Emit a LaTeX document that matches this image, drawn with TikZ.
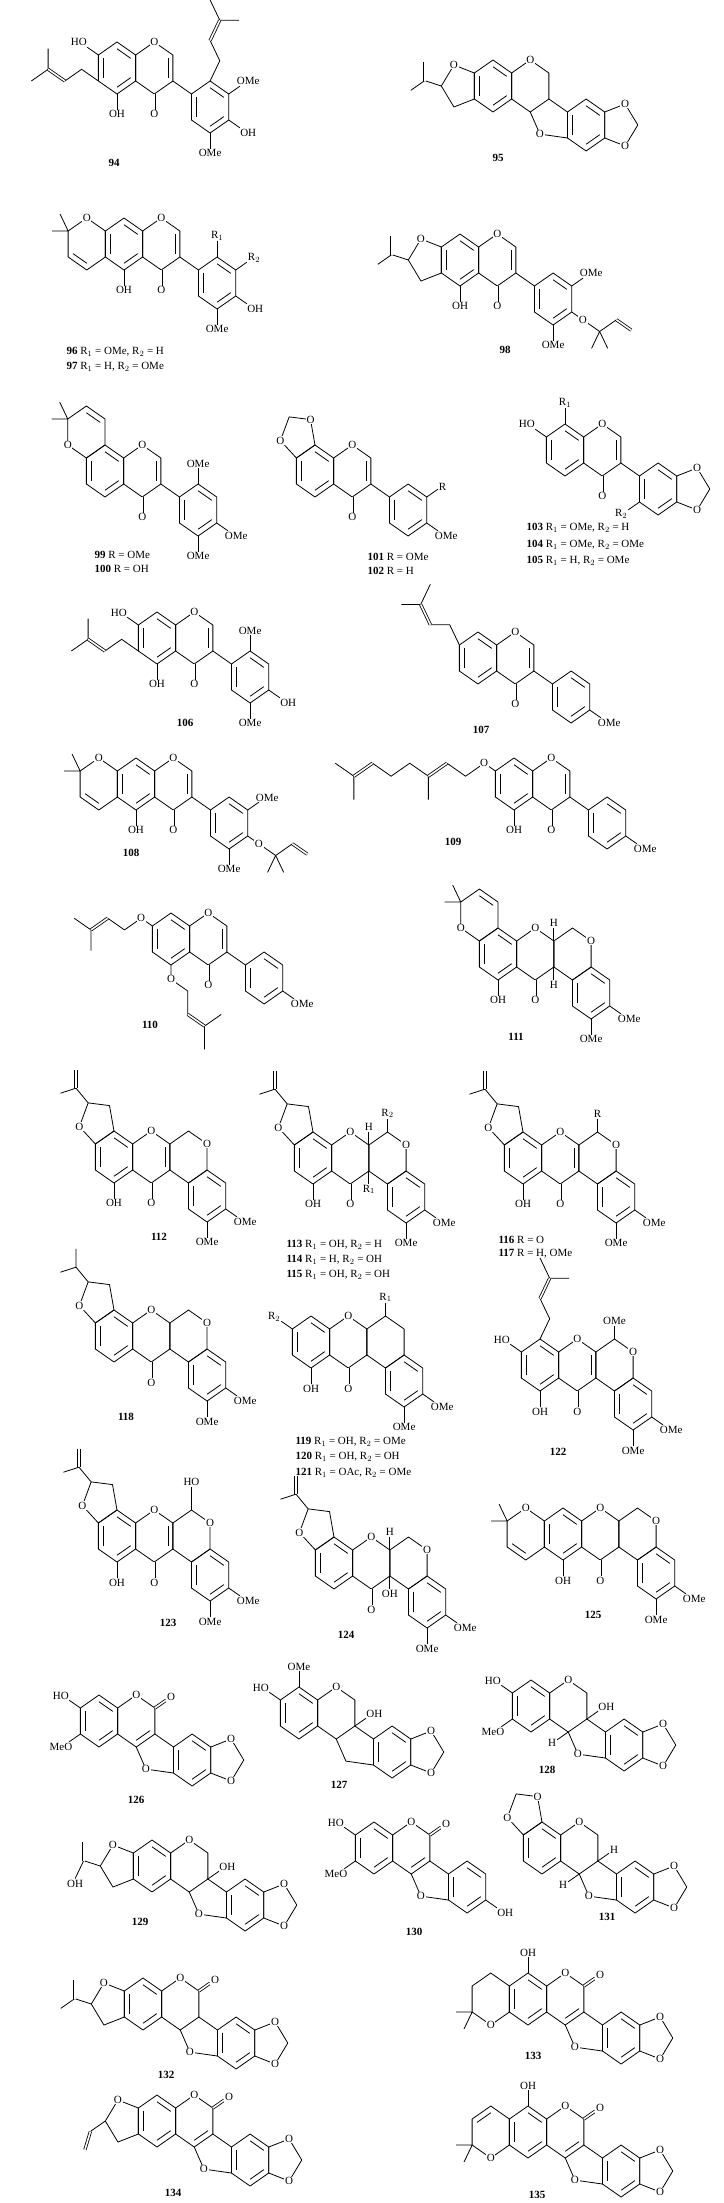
\documentclass[tikz,border=0pt]{standalone}
\usepackage{fontspec}
\setmainfont{Liberation Serif}
\newcounter{nc}
\tikzset{bond/.style={line width=0.8pt,line join=round},
 atom/.style={fill=white,inner sep=0.7pt,font=\fontsize{11}{11}\selectfont},
 lab/.style={font=\bfseries\fontsize{11}{12}\selectfont},
 leg/.style={anchor=west,font=\fontsize{11}{12}\selectfont},
 cmp/.style={xscale=21.5,yscale=26}}
\newcommand{\Sc}[2]{\def\cx{#1}\def\cy{#2}}
\newcommand{\Mv}[2]{\pgfmathsetmacro\cx{\cx+(#1)*cos(#2)}\pgfmathsetmacro\cy{\cy+(#1)*sin(#2)}}
\newcommand{\Hx}[1][0]{\draw[bond] (\cx,\cy) +(#1+30:1) -- +(#1+90:1) -- +(#1+150:1) -- +(#1+210:1) -- +(#1+270:1) -- +(#1+330:1) -- cycle;}
\newcommand{\Db}[2]{\draw[bond] (\cx,\cy) +(#1:.74) -- +(#2:.74);}
\newcommand{\Ar}[1][0]{\Db{#1+30}{#1+90}\Db{#1+150}{#1+210}\Db{#1+270}{#1+330}}
\newcommand{\Pn}[1]{\draw[bond] (\cx,\cy) +(#1+36:.85) -- +(#1+108:.85) -- +(#1+180:.85) -- +(#1+252:.85) -- +(#1+324:.85) -- cycle;}
\newcommand{\At}[3][1]{\stepcounter{nc}\path (\cx,\cy) ++(#2:#1) node[atom] (n\arabic{nc}) {#3};}
\newcommand{\Sb}[3][0.6]{\stepcounter{nc}\pgfmathtruncatemacro\anc{mod(540-(#2),360)}\draw[bond] (\cx,\cy) ++(#2:1) -- ++(#2:#1) node[atom,anchor=\anc] (n\arabic{nc}) {#3};}
\newcommand{\Sv}[4][.6]{\stepcounter{nc}\pgfmathtruncatemacro\anc{mod(540-(#3),360)}\draw[bond] (\cx,\cy) ++(#2:1) -- ++(#3:#1) node[atom,anchor=\anc] (n\arabic{nc}) {#4};}
\newcommand{\Co}[1]{\stepcounter{nc}\pgfmathtruncatemacro\anc{mod(540-(#1),360)}\draw[bond,double distance=1.6pt] (\cx,\cy) ++(#1:1) -- ++(#1:.6) node[atom,anchor=\anc] (n\arabic{nc}) {O};}
\newcommand{\Pren}[1]{\draw[bond] (\cx,\cy)++(#1:1) --++(#1+30:.9) --++(#1-30:.9) coordinate(pp) --++(#1+30:.9) coordinate(qq) --++(#1-30:.9) (qq) --++(#1+90:.9); \draw[bond,double distance=1.6pt] (pp)--(qq);}
\newcommand{\PrenL}{\draw[bond] (\cx,\cy)++(150:1) --++(210:.9) --++(150:.9) coordinate(pp) --++(210:.9) coordinate(qq) --++(150:.9) (qq) --++(270:.8); \draw[bond,double distance=1.6pt] (pp)--(qq);}
\newcommand{\MeTwo}[3]{\draw[bond] (\cx,\cy)++(#1:1)--++(#2:.75) (\cx,\cy)++(#1:1)--++(#3:.75);}
\newcommand{\Chrom}{\Hx\Ar\Mv{1.732}{0}\Hx\Db{330}{30}\At{270}{O}\Co{90}}
\newcommand{\IsoPh}{\draw[bond] (\cx,\cy)++(30:1)--++(30:1);\Mv{3}{30}\Hx\Ar}
\newcommand{\PyrT}{\Mv{1.732}{180}\Hx\At{270}{O}\MeTwo{210}{240}{180}\Db{90}{150}\Mv{1.732}{0}}
\newcommand{\PyrB}[1]{\Mv{1.732}{180}\Hx\At{90}{O}\MeTwo{150}{180}{120}#1\Mv{1.732}{0}}
\newcommand{\PyrAng}{\Mv{1.732}{240}\Hx\At{150}{O}\MeTwo{210}{240}{180}\Db{270}{330}\Mv{1.732}{60}}
\newcommand{\FurLin}[1]{\Mv{1.554}{180}\Pn{0}\At[.85]{252}{O}#1\Mv{1.554}{0}}
\newcommand{\FurAng}[1]{\Mv{1.554}{240}\Pn{60}\At[.85]{168}{O}#1\Mv{1.554}{60}}
\newcommand{\Diox}{\Mv{1.554}{0}\Pn{180}\At[.85]{72}{O}\At[.85]{288}{O}\Mv{1.554}{180}}
\newcommand{\DioxAng}{\Mv{1.554}{240}\Pn{60}\At[.85]{168}{O}\At[.85]{312}{O}\Mv{1.554}{60}}
\newcommand{\Ipr}[3]{\draw[bond] (\cx,\cy)++(#1:.85) --++(#2:.8) coordinate(qq) --++(#3:.75); \draw[bond,double distance=1.6pt] (qq)--++(270:.7);}
\newcommand{\Ipp}[3]{\draw[bond] (\cx,\cy)++(#1:.85) --++(#2:.8) coordinate(qq) --++(#3:.75) (qq)--++(270:.7);}
\newcommand{\Vin}{\draw[bond] (\cx,\cy)++(180:.85) --++(150:.8) coordinate(qq); \draw[bond,double distance=1.6pt] (qq)--++(110:.75);}
\newcommand{\Hyd}{\stepcounter{nc}\draw[bond] (\cx,\cy)++(180:.85) --++(195:.8) coordinate(qq) --++(120:.8) node[atom,anchor=north](n\arabic{nc}){OH}; \draw[bond,double distance=1.6pt] (qq)--++(270:.7);}
\newcommand{\ODma}[1]{\stepcounter{nc}\draw[bond] (\cx,\cy)++(#1:1)--++(#1:.6) node[atom](n\arabic{nc}){O} --++(30:.9) coordinate(qq) --++(330:.9) coordinate(pp); \draw[bond,double distance=1.6pt] (pp)--++(30:.8); \draw[bond] (qq)--++(120:.75) (qq)--++(60:.75);}
\newcommand{\OGer}{\stepcounter{nc}\draw[bond] (\cx,\cy)++(210:1) --++(210:.6) node[atom](n\arabic{nc}){O} --++(150:1) --++(210:1) coordinate(pp) --++(150:1) coordinate(qq) --++(90:.9) (qq) --++(210:1) --++(150:1) --++(210:1) coordinate(rr) --++(150:1) coordinate(ss) --++(90:.9) (ss)--++(210:1); \draw[bond,double distance=1.6pt] (pp)--(qq) (rr)--(ss);}
\newcommand{\OPrenL}{\stepcounter{nc}\draw[bond] (\cx,\cy)++(210:1) --++(210:.6) node[atom](n\arabic{nc}){O} --++(150:.9) --++(210:.9) coordinate(pp) --++(150:.9) coordinate(qq) --++(210:.9) (qq)--++(90:.8); \draw[bond,double distance=1.6pt] (pp)--(qq);}
\newcommand{\OPrenD}{\stepcounter{nc}\draw[bond] (\cx,\cy)++(90:1) --++(90:.55) node[atom](n\arabic{nc}){O} --++(30:.9) --++(90:.9) coordinate(pp) --++(30:.9) coordinate(qq) --++(330:.9) (qq) --++(90:.9); \draw[bond,double distance=1.6pt] (pp)--(qq);}
\newcommand{\PteroO}{\stepcounter{nc}\draw[bond] (\cx,\cy)++(30:1)--++(30:1); \draw[bond] ({\cx},{\cy+1}) -- ({\cx+0.45},{\cy+1.85}) node[atom](n\arabic{nc}){O} -- ({\cx+1.732},{\cy+2}); \Mv{3}{30}\Hx\Ar}
\newcommand{\PteroC}{\draw[bond] (\cx,\cy)++(30:1)--++(30:1); \draw[bond] ({\cx},{\cy+1}) -- ({\cx+0.45},{\cy+1.85}) -- ({\cx+1.732},{\cy+2}); \Mv{3}{30}\Hx\Ar}
\newcommand{\RotR}[2]{\Hx\Ar\Mv{1.732}{0}\Hx\At{270}{O}\Co{90}#1\Mv{1.732}{0}\Hx#2\Mv{1.732}{60}\Hx\Ar\Sb{30}{OMe}\Sb{90}{OMe}}
\begin{document}
\begin{tikzpicture}[x=1pt,y=-1pt]
\useasboundingbox (0,0) rectangle (723,2203);
\fill[white] (0,0) rectangle (723,2203);
% 94
\begin{scope}[shift={(117,68)},cmp]\Sc{0}{0}
\Sb{210}{HO}\PrenL\Sb{90}{OH}\Chrom\IsoPh\Pren{270}\Sb{330}{OMe}\Sb{30}{OH}\Sb{90}{OMe}
\end{scope}
% 95
\begin{scope}[shift={(493,86)},cmp]\Sc{0}{0}
\FurLin{\Ipr{180}{195}{150}}\Hx\Ar\Mv{1.732}{0}\Hx\At{270}{O}\PteroO\Diox
\end{scope}
% 96
\begin{scope}[shift={(124,244)},cmp]\Sc{0}{0}
\Sb{90}{OH}\PyrT\Chrom\IsoPh\Sb{270}{R$_1$}\Sb{330}{R$_2$}\Sb{30}{OH}\Sb{90}{OMe}
\end{scope}
% 98
\begin{scope}[shift={(460,260)},cmp]\Sc{0}{0}
\Sb{90}{OH}\FurLin{\Ipr{180}{195}{150}}\Chrom\IsoPh\Sb{330}{OMe}\Sb{90}{OMe}\ODma{30}
\end{scope}
% 99
\begin{scope}[shift={(105,471)},cmp]\Sc{0}{0}
\PyrAng\Chrom\IsoPh\Sb{270}{OMe}\Sb{30}{OMe}\Sb{90}{OMe}
\end{scope}
% 101
\begin{scope}[shift={(315,471)},cmp]\Sc{0}{0}
\DioxAng\Chrom\IsoPh\Sb{330}{R}\Sb{30}{OMe}
\end{scope}
% 103
\begin{scope}[shift={(565,450)},cmp]\Sc{0}{0}
\Sb{210}{HO}\Sb{270}{R$_1$}\Chrom\IsoPh\Sb{150}{R$_2$}\Diox
\end{scope}
% 106
\begin{scope}[shift={(157,638)},cmp]\Sc{0}{0}
\Sb{210}{HO}\PrenL\Sb{90}{OH}\Chrom\IsoPh\Sb{270}{OMe}\Sb{30}{OH}\Sb{90}{OMe}
\end{scope}
% 107
\begin{scope}[shift={(478,658)},cmp]\Sc{0}{0}
\Pren{210}\Chrom\IsoPh\Sb{30}{OMe}
\end{scope}
% 108
\begin{scope}[shift={(136,784)},cmp]\Sc{0}{0}
\Sb{90}{OH}\PyrT\Chrom\IsoPh\Sb{330}{OMe}\ODma{30}\Sb{90}{OMe}
\end{scope}
% 109
\begin{scope}[shift={(514,784)},cmp]\Sc{0}{0}
\OGer\Sb{90}{OH}\Chrom\IsoPh\Sb{30}{OMe}
\end{scope}
% 110
\begin{scope}[shift={(171,939)},cmp]\Sc{0}{0}
\OPrenL\OPrenD\Chrom\IsoPh\Sb{30}{OMe}
\end{scope}
% 111
\begin{scope}[shift={(498,954)},cmp]\Sc{0}{0}
\Sb{90}{OH}\PyrAng\RotR{}{\At{330}{O}\Sv[.5]{210}{270}{H}\Sv[.5]{150}{90}{H}}
\end{scope}
% 112
\begin{scope}[shift={(114,1157)},cmp]\Sc{0}{0}
\Sb{90}{OH}\FurAng{\Ipr{240}{225}{165}}\RotR{\Db{330}{30}}{\At{330}{O}}
\end{scope}
% 113
\begin{scope}[shift={(313,1158)},cmp]\Sc{0}{0}
\Sb{90}{OH}\FurAng{\Ipr{240}{225}{165}}\RotR{\Sv[.5]{30}{90}{R$_1$}\Sv[.5]{330}{270}{H}}{\At{330}{O}\Sb[.5]{270}{R$_2$}}
\end{scope}
% 116
\begin{scope}[shift={(523,1158)},cmp]\Sc{0}{0}
\Sb{90}{OH}\FurAng{\Ipr{240}{225}{165}}\RotR{\Db{330}{30}}{\At{330}{O}\Sb[.5]{270}{R}}
\end{scope}
% 118
\begin{scope}[shift={(114,1336)},cmp]\Sc{0}{0}
\FurAng{\Ipp{240}{225}{165}}\RotR{}{\At{330}{O}}
\end{scope}
% 119
\begin{scope}[shift={(311,1342)},cmp]\Sc{0}{0}
\Sb{210}{R$_2$}\Sb{90}{OH}\RotR{}{\Sb[.5]{270}{R$_1$}}
\end{scope}
% 122
\begin{scope}[shift={(540,1365)},cmp]\Sc{0}{0}
\Sb{210}{HO}\Sb{90}{OH}\Pren{270}\RotR{\Db{330}{30}}{\At{330}{O}\Sb[.5]{270}{OMe}}
\end{scope}
% 123
\begin{scope}[shift={(117,1536)},cmp]\Sc{0}{0}
\Sb{90}{OH}\FurAng{\Ipr{240}{225}{165}}\RotR{\Db{330}{30}}{\At{330}{O}\Sb[.9]{270}{HO}}
\end{scope}
% 124
\begin{scope}[shift={(334,1563)},cmp]\Sc{0}{0}
\FurAng{\Ipr{240}{225}{165}}\RotR{\Sv[.5]{30}{90}{OH}\Sv[.5]{330}{270}{H}}{\At{330}{O}}
\end{scope}
% 125
\begin{scope}[shift={(563,1534)},cmp]\Sc{0}{0}
\Sb{90}{OH}\PyrT\RotR{}{\At{330}{O}}
\end{scope}
% 126
\begin{scope}[shift={(99,1721)},cmp]\Sc{0}{0}
\Sb{210}{HO}\Sb{150}{MeO}\Hx\Ar\Mv{1.732}{0}\Hx\At{270}{O}\Co{330}\Db{30}{90}\PteroO\Diox
\end{scope}
% 127
\begin{scope}[shift={(299,1713)},cmp]\Sc{0}{0}
\Sb{270}{OMe}\Sb{210}{HO}\Hx\Ar\Mv{1.732}{0}\Hx\At{270}{O}\Sv{30}{330}{OH}\PteroC\Diox
\end{scope}
% 128
\begin{scope}[shift={(531,1706)},cmp]\Sc{0}{0}
\Sb{210}{HO}\Sb{150}{MeO}\Hx\Ar\Mv{1.732}{0}\Hx\At{270}{O}\Sv{30}{330}{OH}\Sv{90}{150}{H}\PteroO\Diox
\end{scope}
% 129
\begin{scope}[shift={(152,1866)},cmp]\Sc{0}{0}
\FurLin{\Hyd}\Hx\Ar\Mv{1.732}{0}\Hx\At{270}{O}\Sv{30}{330}{OH}\PteroO\Diox
\end{scope}
% 130
\begin{scope}[shift={(374,1848)},cmp]\Sc{0}{0}
\Sb{210}{HO}\Sb{150}{MeO}\Hx\Ar\Mv{1.732}{0}\Hx\At{270}{O}\Co{330}\Db{30}{90}\PteroO\Sb{30}{OH}
\end{scope}
% 131
\begin{scope}[shift={(542,1848)},cmp]\Sc{0}{0}
\DioxAng\Hx\Ar\Mv{1.732}{0}\Hx\At{270}{O}\Sv{30}{330}{H}\Sv{90}{150}{H}\PteroO\Diox
\end{scope}
% 132
\begin{scope}[shift={(143,2004)},cmp]\Sc{0}{0}
\FurLin{\Ipr{180}{195}{150}}\Hx\Ar\Mv{1.732}{0}\Hx\At{270}{O}\Co{330}\PteroO\Diox
\end{scope}
% 133
\begin{scope}[shift={(528,1999)},cmp]\Sc{0}{0}
\Sb{270}{OH}\PyrB{}\Hx\Ar\Mv{1.732}{0}\Hx\At{270}{O}\Co{330}\Db{30}{90}\PteroO\Diox
\end{scope}
% 134
\begin{scope}[shift={(157,2121)},cmp]\Sc{0}{0}
\FurLin{\Vin}\Hx\Ar\Mv{1.732}{0}\Hx\At{270}{O}\Co{330}\Db{30}{90}\PteroO\Diox
\end{scope}
% 135
\begin{scope}[shift={(528,2132)},cmp]\Sc{0}{0}
\Sb{270}{OH}\PyrB{\Db{210}{270}}\Hx\Ar\Mv{1.732}{0}\Hx\At{270}{O}\Co{330}\Db{30}{90}\PteroO\Diox
\end{scope}
% labels
\node[lab] (L94) at (114,163) {94};
\node[lab] (L95) at (498,158) {95};
\node[leg] (L96) at (63,352) {\textbf{96} R$_1$ = OMe, R$_2$ = H};
\node[leg] (L97) at (63,367) {\textbf{97} R$_1$ = H, R$_2$ = OMe};
\node[lab] (L98) at (505,350) {98};
\node[leg] (L99) at (91,555) {\textbf{99} R = OMe};
\node[leg] (L100) at (91,569) {\textbf{100} R = OH};
\node[leg] (L101) at (364,557) {\textbf{101} R = OMe};
\node[leg] (L102) at (364,571) {\textbf{102} R = H};
\node[leg] (L103) at (523,528) {\textbf{103} R$_1$ = OMe, R$_2$ = H};
\node[leg] (L104) at (523,545) {\textbf{104} R$_1$ = OMe, R$_2$ = OMe};
\node[leg] (L105) at (523,561) {\textbf{105} R$_1$ = H, R$_2$ = OMe};
\node[lab] (L106) at (185,723) {106};
\node[lab] (L107) at (481,730) {107};
\node[lab] (L108) at (131,853) {108};
\node[lab] (L109) at (453,842) {109};
\node[lab] (L110) at (150,1025) {110};
\node[lab] (L111) at (516,1037) {111};
\node[lab] (L112) at (159,1237) {112};
\node[leg] (L113) at (283,1245) {\textbf{113} R$_1$ = OH, R$_2$ = H};
\node[leg] (L114) at (283,1260) {\textbf{114} R$_1$ = H, R$_2$ = OH};
\node[leg] (L115) at (283,1275) {\textbf{115} R$_1$ = OH, R$_2$ = OH};
\node[leg] (L116) at (495,1240) {\textbf{116} R = O};
\node[leg] (L117) at (495,1254) {\textbf{117} R = H, OMe};
\node[lab] (L118) at (126,1417) {118};
\node[leg] (L119) at (292,1442) {\textbf{119} R$_1$ = OH, R$_2$ = OMe};
\node[leg] (L120) at (292,1457) {\textbf{120} R$_1$ = OH, R$_2$ = OH};
\node[leg] (L121) at (292,1473) {\textbf{121} R$_1$ = OAc, R$_2$ = OMe};
\node[lab] (L122) at (558,1452) {122};
\node[lab] (L123) at (168,1623) {123};
\node[lab] (L124) at (346,1635) {124};
\node[lab] (L125) at (593,1615) {125};
\node[lab] (L126) at (136,1800) {126};
\node[lab] (L127) at (339,1785) {127};
\node[lab] (L128) at (547,1770) {128};
\node[lab] (L129) at (140,1922) {129};
\node[lab] (L130) at (414,1932) {130};
\node[lab] (L131) at (607,1917) {131};
\node[lab] (L132) at (166,2075) {132};
\node[lab] (L133) at (533,2056) {133};
\node[lab] (L134) at (173,2193) {134};
\node[lab] (L135) at (537,2195) {135};
\end{tikzpicture}
\end{document}
